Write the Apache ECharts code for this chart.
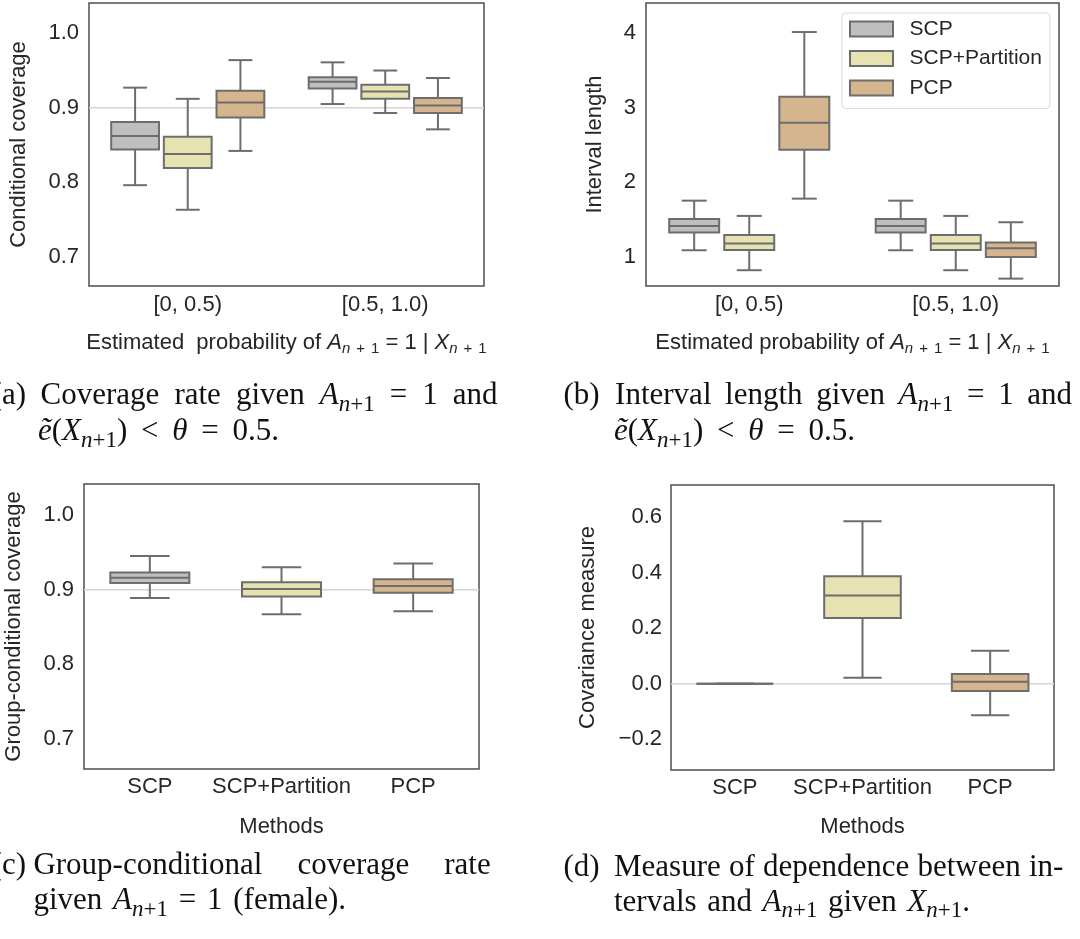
<!DOCTYPE html>
<html>
<head>
<meta charset="utf-8">
<script src="https://cdn.jsdelivr.net/npm/echarts@6/dist/echarts.min.js"></script>
<style>
html, body { margin: 0; padding: 0; background: #fff; }
#chart { width: 1080px; height: 939px; }
</style>
</head>
<body>
<div id="chart"></div>
<script>
var SANS = 'Liberation Sans, Arial, sans-serif';
var SERIF = 'Liberation Serif, Times New Roman, serif';
var TXT = '#262626';
var LINE = '#6d6d6d';
var FRAME = '#4d4d4d';
var REF = '#d5d5d5';

var groups = ['[0, 0.5)', '[0.5, 1.0)'];
var methods = ['SCP', 'SCP+Partition', 'PCP'];
var hueColors = ['#bfbfbf', '#e6e2b2', '#d4b58d'];

// box summaries: [lower whisker, Q1, median, Q3, upper whisker]
// (a) conditional coverage, one row per group
var covSCP  = [[0.796, 0.844, 0.862, 0.881, 0.927], [0.905, 0.926, 0.935, 0.941, 0.961]];
var covPart = [[0.763, 0.819, 0.838, 0.861, 0.912], [0.893, 0.912, 0.922, 0.931, 0.950]];
var covPCP  = [[0.842, 0.887, 0.907, 0.923, 0.964], [0.871, 0.893, 0.903, 0.913, 0.940]];
// (b) interval length
var lenSCP  = [[1.087, 1.324, 1.413, 1.507, 1.753], [1.087, 1.324, 1.413, 1.507, 1.753]];
var lenPart = [[0.819, 1.091, 1.176, 1.293, 1.548], [0.819, 1.091, 1.176, 1.293, 1.548]];
var lenPCP  = [[1.780, 2.437, 2.800, 3.149, 4.017], [0.706, 0.997, 1.114, 1.190, 1.463]];
// (c) group-conditional coverage, one row per method
var groupCov = [[0.889, 0.909, 0.916, 0.923, 0.945], [0.867, 0.891, 0.901, 0.910, 0.930], [0.871, 0.896, 0.905, 0.914, 0.935]];
// (d) covariance measure, one row per method
var covMeasure = [[0, 0, 0, 0, 0], [0.022, 0.237, 0.318, 0.387, 0.585], [-0.113, -0.026, 0.007, 0.035, 0.119]];

var coverageTarget = 0.9;
var zeroLevel = 0;

var ticksCov = [0.7, 0.8, 0.9, 1.0];
var ticksLen = [1, 2, 3, 4];
var ticksMeasure = [-0.2, 0, 0.2, 0.4, 0.6];

var chart = echarts.init(document.getElementById('chart'));

// seaborn style box: half width caps, hue dodge
function boxSeries(name, rows, xi, hue, nHue, boxFrac) {
    return {
        type: 'custom',
        name: name,
        xAxisIndex: xi,
        yAxisIndex: xi,
        z: 3,
        silent: true,
        itemStyle: {color: hueColors[Math.max(hue, 0)], borderColor: LINE},
        encode: {x: 0, y: [1, 2, 3, 4, 5]},
        data: rows.map(function (r, i) { return [i].concat(r); }),
        renderItem: function (params, api) {
            var cat = api.value(0);
            var band = api.size([1, 0])[0];
            var off = nHue > 1 ? (hue - (nHue - 1) / 2) * band * 0.8 / nHue : 0;
            var cx = api.coord([cat, 0])[0] + off;
            var w = band * boxFrac;
            var y = [1, 2, 3, 4, 5].map(function (d) { return api.coord([cat, api.value(d)])[1]; });
            var fill = nHue > 1 ? hueColors[hue] : hueColors[cat];
            var ls = {stroke: LINE, lineWidth: 2};
            return {
                type: 'group',
                children: [
                    {type: 'line', shape: {x1: cx, y1: y[0], x2: cx, y2: y[1]}, style: ls},
                    {type: 'line', shape: {x1: cx, y1: y[3], x2: cx, y2: y[4]}, style: ls},
                    {type: 'line', shape: {x1: cx - w / 4, y1: y[0], x2: cx + w / 4, y2: y[0]}, style: ls},
                    {type: 'line', shape: {x1: cx - w / 4, y1: y[4], x2: cx + w / 4, y2: y[4]}, style: ls},
                    {type: 'rect', shape: {x: cx - w / 2, y: y[3], width: w, height: y[1] - y[3]},
                        style: {fill: fill, stroke: LINE, lineWidth: 2}},
                    {type: 'line', shape: {x1: cx - w / 2, y1: y[2], x2: cx + w / 2, y2: y[2]}, style: ls}
                ]
            };
        }
    };
}

function refLine(gi, level) {
    return {
        type: 'line', xAxisIndex: gi + 4, yAxisIndex: gi, z: 1, silent: true,
        symbol: 'none', data: [[0, level], [1, level]],
        lineStyle: {color: REF, width: 1.5}
    };
}

var nameRich = {
    i: {fontFamily: SANS, fontSize: 22, fontStyle: 'italic', color: TXT, lineHeight: 26},
    r: {fontFamily: SANS, fontSize: 22, color: TXT, lineHeight: 26},
    si: {fontFamily: SANS, fontSize: 15, fontStyle: 'italic', color: TXT, lineHeight: 12, verticalAlign: 'bottom'},
    sp: {fontFamily: SANS, fontSize: 15, color: TXT, lineHeight: 12, verticalAlign: 'bottom', padding: [0, 6, 0, 6]},
    su: {fontFamily: SANS, fontSize: 15, color: TXT, lineHeight: 12, verticalAlign: 'bottom'}
};
var probName = '{i|A}{si|n}{sp|+}{su|1}{r| = 1 | }{i|X}{si|n}{sp|+}{su|1}';

function xCat(gi, cats, name, gap, margin) {
    return {
        type: 'category', gridIndex: gi, data: cats,
        axisLine: {show: false, onZero: false}, axisTick: {show: false}, splitLine: {show: false},
        axisLabel: {fontSize: 22, color: TXT, fontFamily: SANS, margin: margin, interval: 0},
        name: name, nameLocation: 'middle', nameGap: gap,
        nameTextStyle: {fontSize: 22, color: TXT, fontFamily: SANS, lineHeight: 26, rich: nameRich}
    };
}

function xHidden(gi) {
    return {type: 'value', gridIndex: gi, min: 0, max: 1, show: false};
}

function yAx(gi, min, max, ticks, digits, name, gap, margin) {
    return {
        type: 'value', gridIndex: gi, min: min, max: max,
        splitLine: {show: false}, axisLine: {show: false, onZero: false}, axisTick: {show: false},
        axisLabel: {
            customValues: ticks, fontSize: 22, color: TXT, fontFamily: SANS, margin: margin,
            formatter: function (v) { return v.toFixed(digits).replace('-', '\u2212'); }
        },
        name: name, nameLocation: 'middle', nameGap: gap,
        nameTextStyle: {fontSize: 22, color: TXT, fontFamily: SANS, lineHeight: 22}
    };
}

// ---- captions (LaTeX-like, justified) ----
var CAP = 31, SUB = 23;
var capRich = {
    r: {fontFamily: SERIF, fontSize: CAP, fill: '#111', lineHeight: 40},
    i: {fontFamily: SERIF, fontSize: CAP, fontStyle: 'italic', fill: '#111', lineHeight: 40},
    si: {fontFamily: SERIF, fontSize: SUB, fontStyle: 'italic', fill: '#111', lineHeight: 26, verticalAlign: 'bottom'},
    su: {fontFamily: SERIF, fontSize: SUB, fill: '#111', lineHeight: 26, verticalAlign: 'bottom'}
};
var An1 = '{i|A}{si|n}{su|+1}';
var Xn1 = '{i|X}{si|n}{su|+1}';

var measureCtx = document.createElement('canvas').getContext('2d');
function textWidth(str) {
    var re = /\{(\w+)\|([^}]*)\}|([^{]+)/g, m, w = 0;
    while ((m = re.exec(str))) {
        var st = m[1] ? capRich[m[1]] : capRich.r;
        measureCtx.font = (st.fontStyle || 'normal') + ' ' + st.fontSize + 'px ' + st.fontFamily;
        w += measureCtx.measureText(m[1] ? m[2] : m[3]).width;
    }
    return w;
}

function cap(str, x, y, align) {
    return {
        type: 'text', x: x, y: y, silent: true,
        style: {
            text: str, fontFamily: SERIF, fontSize: CAP, fill: '#111', lineHeight: 40,
            align: align || 'left', verticalAlign: 'middle', rich: capRich
        }
    };
}

// spread the chunks so the line runs from x0 to x1
function capLine(chunks, x0, x1, y) {
    var widths = chunks.map(textWidth);
    var total = widths.reduce(function (a, b) { return a + b; }, 0);
    var gap = (x1 - x0 - total) / (chunks.length - 1);
    var x = x0;
    return chunks.map(function (c, k) {
        var el = cap(c, x, y);
        x += widths[k] + gap;
        return el;
    });
}

var frame = {show: true, borderColor: FRAME, borderWidth: 1.5, backgroundColor: 'transparent', outerBoundsMode: 'none', containLabel: false};

var option = {
    animation: false,
    backgroundColor: '#fff',
    grid: [
        Object.assign({left: 89, top: 3, width: 395, height: 283}, frame),
        Object.assign({left: 646, top: 3, width: 413, height: 283}, frame),
        Object.assign({left: 84, top: 484, width: 395, height: 285}, frame),
        Object.assign({left: 671, top: 485, width: 383, height: 285}, frame)
    ],
    xAxis: [
        xCat(0, groups, 'Estimated  probability of ' + probName, 44, 8),
        xCat(1, groups, 'Estimated probability of ' + probName, 44, 8),
        xCat(2, methods, 'Methods', 45, 7),
        xCat(3, methods, 'Methods', 44, 7),
        xHidden(0), xHidden(1), xHidden(2), xHidden(3)
    ],
    yAxis: [
        yAx(0, 0.6606, 1.0407, ticksCov, 1, 'Conditional coverage', 59, 10),
        yAx(1, 0.607, 4.407, ticksLen, 0, 'Interval length', 40, 10),
        yAx(2, 0.660, 1.0415, ticksCov, 1, 'Group-conditional coverage', 59, 10),
        yAx(3, -0.310, 0.715, ticksMeasure, 1, 'Covariance measure', 72, 9)
    ],
    legend: {
        left: 842, top: 13, orient: 'vertical',
        data: methods.map(function (m, i) {
            return {name: m, itemStyle: {color: hueColors[i], borderColor: LINE, borderWidth: 2}};
        }),
        icon: 'rect', itemWidth: 43, itemHeight: 15, itemGap: 8.5,
        textStyle: {fontSize: 21, color: TXT, fontFamily: SANS, lineHeight: 21, padding: [0, 0, 0, 11.5]},
        backgroundColor: '#fff', borderColor: '#d9d9d9', borderWidth: 1, borderRadius: 4,
        padding: [5.5, 8, 10, 7],
        selectedMode: false
    },
    series: [
        refLine(0, coverageTarget),
        refLine(2, coverageTarget),
        refLine(3, zeroLevel),
        boxSeries(methods[0], covSCP, 0, 0, 3, 0.242),
        boxSeries(methods[1], covPart, 0, 1, 3, 0.242),
        boxSeries(methods[2], covPCP, 0, 2, 3, 0.242),
        boxSeries(methods[0], lenSCP, 1, 0, 3, 0.242),
        boxSeries(methods[1], lenPart, 1, 1, 3, 0.242),
        boxSeries(methods[2], lenPCP, 1, 2, 3, 0.242),
        boxSeries('groupCov', groupCov, 2, -1, 1, 0.6),
        boxSeries('covMeasure', covMeasure, 3, -1, 1, 0.6)
    ],
    graphic: [].concat(
        [cap('(a)', 26, 396, 'right')],
        capLine(['Coverage', 'rate', 'given', An1, '=', '1', 'and'], 40.6, 497.6, 396),
        capLine(['{i|ẽ}(' + Xn1 + ')', '<', '{i|θ}', '=', '0.5.'], 37.9, 278.9, 432),
        [cap('(b)', 563.4, 396)],
        capLine(['Interval', 'length', 'given', An1, '=', '1', 'and'], 615.1, 1072, 396),
        capLine(['{i|ẽ}(' + Xn1 + ')', '<', '{i|θ}', '=', '0.5.'], 614, 855, 432),
        [cap('(c)', 26, 866, 'right')],
        capLine(['Group-conditional', 'coverage', 'rate'], 33.4, 490.7, 866),
        capLine(['given', An1, '=', '1', '(female).'], 33.4, 346, 901),
        [cap('(d)', 563.4, 867.5)],
        capLine(['Measure', 'of', 'dependence', 'between', 'in-'], 614, 1063.4, 867.5),
        capLine(['tervals', 'and', An1, 'given', Xn1 + '.'], 614, 970, 902.5)
    )
};

chart.setOption(option);
</script>
</body>
</html>
